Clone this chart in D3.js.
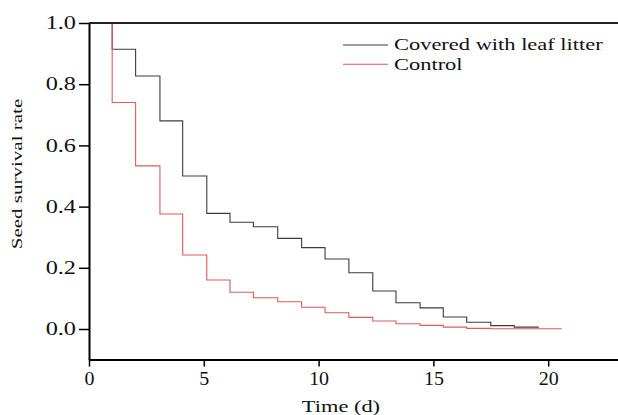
<!DOCTYPE html>
<html>
<head>
<meta charset="utf-8">
<script src="https://cdn.jsdelivr.net/npm/d3@7"></script>
<style>
  body { margin: 0; background: #fff; }
  svg { display: block; }
  svg text { font-family: "Liberation Serif", "Times New Roman", Times, serif; fill: #111; }
</style>
</head>
<body>
<div id="chart"></div>
<script>
// data (step times as they sit against the axis)
const stepTimes = [1.01, 2.03, 3.09, 4.08, 5.13, 6.14, 7.16, 8.22, 9.26, 10.28,
                   11.32, 12.36, 13.37, 14.42, 15.43, 16.45, 17.50, 18.52, 19.57, 20.59];
const coveredRate = [0.914, 0.827, 0.680, 0.500, 0.378, 0.349, 0.334, 0.296, 0.266, 0.229,
                     0.184, 0.124, 0.086, 0.069, 0.039, 0.022, 0.011, 0.006, 0.004];
const controlRate = [0.740, 0.533, 0.376, 0.242, 0.160, 0.120, 0.102, 0.089, 0.071, 0.053,
                     0.038, 0.026, 0.017, 0.012, 0.006, 0.002, 0.001, 0.001, 0.001, 0.001];
const startRate = 1.0;
const xTicks = [0, 5, 10, 15, 20];
const yTicks = [0.0, 0.2, 0.4, 0.6, 0.8, 1.0];
const seriesNames = ["Covered with leaf litter", "Control"];
const seriesColors = ["#3c3c3c", "#e05a5a"];

const width = 618, height = 415;
const margin = { left: 89, right: 618, top: 23, bottom: 359.6 };

const svg = d3.select("#chart").append("svg")
  .attr("width", width)
  .attr("height", height);

const x = d3.scaleLinear().domain([0, 23.04]).range([margin.left, margin.right]);
const y = d3.scaleLinear().domain([-0.1, 1.0]).range([margin.bottom, margin.top]);

// the reference text is set wider than the plain font, so stretch it
function widen(k) {
  return sel => sel.each(function() {
    const w = this.getComputedTextLength();
    d3.select(this).attr("textLength", w * k).attr("lengthAdjust", "spacingAndGlyphs");
  });
}

// series
const line = d3.line()
  .x(d => x(d[0]))
  .y(d => y(d[1]))
  .curve(d3.curveStepAfter);

// level rates[i] starts at stepTimes[i]
function stepPoints(rates) {
  const pts = [[stepTimes[0], startRate]];
  rates.forEach((v, i) => pts.push([stepTimes[i], v]));
  return pts;
}

svg.append("path")
  .attr("d", line(stepPoints(coveredRate)))
  .attr("fill", "none")
  .attr("stroke", seriesColors[0])
  .attr("stroke-width", 1.1);

svg.append("path")
  .attr("d", line(stepPoints(controlRate)))
  .attr("fill", "none")
  .attr("stroke", seriesColors[1])
  .attr("stroke-width", 1.1);

// x axis
const xAxis = svg.append("g")
  .attr("transform", `translate(0,${margin.bottom})`)
  .call(d3.axisBottom(x).tickValues(xTicks).tickSize(7).tickSizeOuter(0).tickFormat(d3.format("d")));
xAxis.attr("font-family", null);
xAxis.select(".domain").attr("stroke-width", 2);
xAxis.selectAll(".tick line").attr("stroke-width", 1.5);
xAxis.selectAll(".tick text")
  .attr("font-size", 19)
  .attr("y", 12)
  .call(widen(1.05));

// y axis
const yAxis = svg.append("g")
  .attr("transform", `translate(${margin.left},0)`)
  .call(d3.axisLeft(y).tickValues(yTicks).tickSize(10).tickSizeOuter(0).tickFormat(d3.format(".1f")));
yAxis.attr("font-family", null);
yAxis.select(".domain").attr("stroke-width", 2);
yAxis.selectAll(".tick line").attr("stroke-width", 1.5);
yAxis.selectAll(".tick text")
  .attr("font-size", 18)
  .attr("x", -13)
  .call(widen(1.35));

// top frame line
svg.append("line")
  .attr("x1", margin.left).attr("x2", margin.right)
  .attr("y1", margin.top).attr("y2", margin.top)
  .attr("stroke", "#222")
  .attr("stroke-width", 2);

// axis titles
svg.append("text")
  .attr("x", 341)
  .attr("y", 412)
  .attr("text-anchor", "middle")
  .attr("font-size", 17.5)
  .text("Time (d)")
  .call(widen(1.28));

svg.append("text")
  .attr("transform", "translate(21.5,174) rotate(-90)")
  .attr("text-anchor", "middle")
  .attr("font-size", 15)
  .text("Seed survival rate")
  .call(widen(1.4));

// legend
const legend = svg.append("g")
  .selectAll("g")
  .data(seriesNames)
  .enter().append("g")
  .attr("transform", (d, i) => `translate(343,${45 + i * 19.2})`);

legend.append("line")
  .attr("x1", 0).attr("x2", 45)
  .attr("stroke", (d, i) => seriesColors[i])
  .attr("stroke-width", 1.1);

legend.append("text")
  .attr("x", 51)
  .attr("dy", "0.32em")
  .attr("font-size", 17)
  .text(d => d)
  .call(widen(1.32));
</script>
</body>
</html>
